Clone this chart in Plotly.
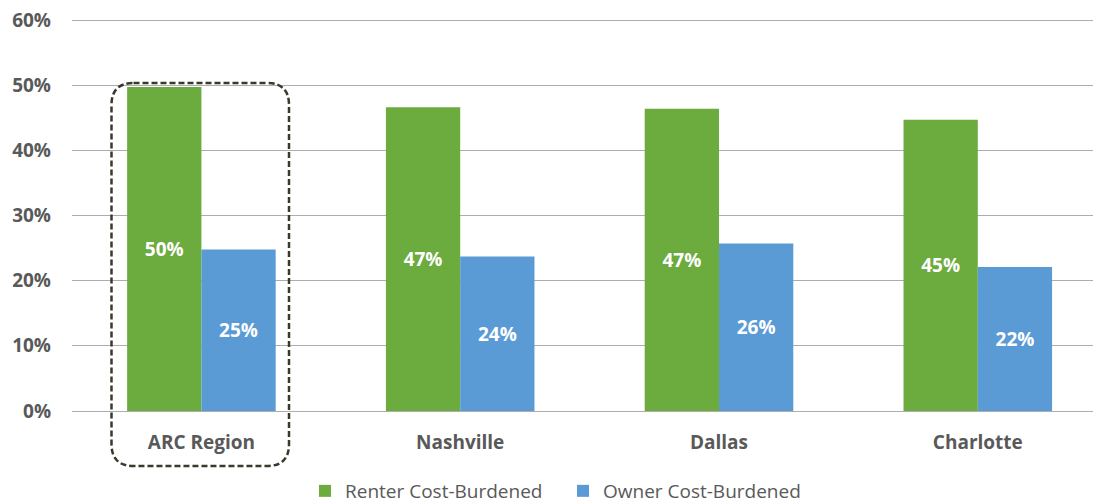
import plotly.graph_objects as go

categories = ["ARC Region", "Nashville", "Dallas", "Charlotte"]
renter = [0.497, 0.466, 0.464, 0.447]
owner = [0.248, 0.237, 0.257, 0.221]
renter_labels = ["50%", "47%", "47%", "45%"]
owner_labels = ["25%", "24%", "26%", "22%"]
tick_vals = [0, 0.1, 0.2, 0.3, 0.4, 0.5, 0.6]
tick_text = ["0%", "10%", "20%", "30%", "40%", "50%", "60%"]

GREEN = "#6CAB3E"
BLUE = "#5B9BD5"
TXT = "#595959"
FONT = "Open Sans"

fig = go.Figure()
fig.add_trace(go.Bar(
    x=categories, y=renter, name="Renter Cost-Burdened",
    marker=dict(color=GREEN, line=dict(width=0)),
    text=renter_labels, textposition="inside", insidetextanchor="middle",
    textfont=dict(color="white", size=19, family=FONT, weight="bold"),
    hoverinfo="skip",
))
fig.add_trace(go.Bar(
    x=categories, y=owner, name="Owner Cost-Burdened",
    marker=dict(color=BLUE, line=dict(width=0)),
    text=owner_labels, textposition="inside", insidetextanchor="middle",
    textfont=dict(color="white", size=19, family=FONT, weight="bold"),
    hoverinfo="skip",
))

# page has an 8px body margin: figure is drawn from (8, 8)
OFF = 8
W, H = 1101 - OFF, 503 - OFF
# target page pixels: plot left 72, 60% line at y=20, 0% at y=411
L = 72 - OFF
T = 20 - OFF - 2
B = H - (411 - OFF)
R = 0
pw = W - L - R
ph = H - T - B
ymax = ph / (391 / 0.6)

def px_x(x):  # page px -> paper
    return (x - OFF - L) / pw

def px_y(y):
    return (H - B - (y - OFF)) / ph

# rounded dashed box around ARC Region
x0, x1, y0, y1, r = 111.5, 289, 83, 466, 22
path = (
    f"M {px_x(x0 + r)},{px_y(y0)} L {px_x(x1 - r)},{px_y(y0)} "
    f"Q {px_x(x1)},{px_y(y0)} {px_x(x1)},{px_y(y0 + r)} "
    f"L {px_x(x1)},{px_y(y1 - r)} "
    f"Q {px_x(x1)},{px_y(y1)} {px_x(x1 - r)},{px_y(y1)} "
    f"L {px_x(x0 + r)},{px_y(y1)} "
    f"Q {px_x(x0)},{px_y(y1)} {px_x(x0)},{px_y(y1 - r)} "
    f"L {px_x(x0)},{px_y(y0 + r)} "
    f"Q {px_x(x0)},{px_y(y0)} {px_x(x0 + r)},{px_y(y0)} Z"
)
fig.add_shape(type="path", path=path, xref="paper", yref="paper",
              line=dict(color="#383A2C", width=2.5, dash="6px,3px"), layer="above")

fig.update_layout(
    width=W, height=H,
    margin=dict(l=L, r=R, t=T, b=B, pad=0, autoexpand=False),
    paper_bgcolor="white", plot_bgcolor="white",
    barmode="group", bargap=0.426, bargroupgap=0,
    font=dict(family=FONT, color=TXT),
    showlegend=True,
    legend=dict(orientation="h", x=px_x(305), xanchor="left",
                y=px_y(491), yanchor="middle",
                font=dict(size=19, family=FONT, color=TXT),
                itemwidth=30, traceorder="normal",
                entrywidth=213, entrywidthmode="pixels"),
)
fig.update_xaxes(
    range=[-0.5, -0.5 + pw / 258.8],
    showgrid=False, showline=False, zeroline=False,
    tickfont=dict(size=19, family=FONT, color=TXT, weight="bold"),
    ticks="", ticklabelstandoff=18, automargin=False,
)
fig.update_yaxes(
    range=[0, ymax], tickvals=tick_vals, ticktext=tick_text,
    showgrid=True, gridcolor="#ADADAD", gridwidth=1.2,
    zeroline=True, zerolinecolor="#ADADAD", zerolinewidth=1.2,
    showline=False, ticks="", ticklabeloverflow="allow",
    tickfont=dict(size=19, family=FONT, color=TXT, weight="bold"),
    ticklabelstandoff=20, automargin=False,
)

fig.write_html("out.html")
